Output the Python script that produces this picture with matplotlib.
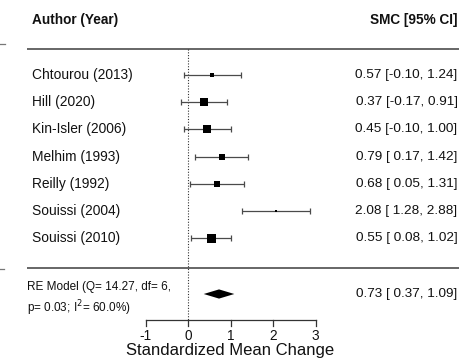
import numpy as np
import matplotlib
matplotlib.use("Agg")
import matplotlib.pyplot as plt

plt.rcParams['font.family'] = ['Liberation Sans', 'DejaVu Sans']

# Study-level standardized mean changes with 95% CIs
studies = ["Chtourou (2013)", "Hill (2020)", "Kin-Isler (2006)", "Melhim (1993)",
           "Reilly (1992)", "Souissi (2004)", "Souissi (2010)"]
smc = [0.57, 0.37, 0.45, 0.79, 0.68, 2.08, 0.55]
ci_low = [-0.10, -0.17, -0.10, 0.17, 0.05, 1.28, 0.08]
ci_high = [1.24, 0.91, 1.00, 1.42, 1.31, 2.88, 1.02]

# Random-effects summary
re_est, re_low, re_high = 0.73, 0.37, 1.09
q_stat, q_df, q_p, i2 = 14.27, 6, 0.03, 60.0

x_ticks = [-1, 0, 1, 2, 3]

# ---- layout helpers (pixel grid of the 459x360 canvas) ----
PX0, PXU = 188.0, 42.5       # x pixel of SMC = 0, pixels per unit
PY0, PYU = 75.0, 27.2        # y pixel of first row, pixels per row


def X(px):
    return (px - PX0) / PXU


def Y(py):
    return (py - PY0) / PYU


fig = plt.figure(figsize=(4.59, 3.6), dpi=100)
ax = fig.add_axes([0, 0, 1, 1])
ax.set_xlim(X(0), X(459))
ax.set_ylim(Y(360), Y(0))
ax.axis('off')

n = len(studies)
rows = np.arange(n)
est = np.array(smc)
lo = np.array(ci_low)
hi = np.array(ci_high)

# box sizes proportional to random-effects weights (DerSimonian-Laird)
v = ((hi - lo) / (2 * 1.959964)) ** 2
w_fe = 1 / v
c = w_fe.sum() - (w_fe ** 2).sum() / w_fe.sum()
tau2 = max(0.0, (q_stat - q_df) / c)
w_re = 1 / (v + tau2)
rel = (w_re - w_re.min()) / (w_re.max() - w_re.min())
box_px = 2.5 + rel * (9.0 - 2.5)
box_pt = box_px * 72 / 100

line_col = '#4a4a4a'
y_top, y_bot = Y(48.5), Y(267.5)
y_re = Y(294)
y_axis = Y(319.5)

# separator lines
ax.plot([X(27), X(459)], [y_top, y_top], color='#5a5a5a', lw=1.3, solid_capstyle='butt')
ax.plot([X(27), X(459)], [y_bot, y_bot], color='#5a5a5a', lw=1.3, solid_capstyle='butt')
ax.plot([X(0), X(5)], [Y(44), Y(44)], color='#777777', lw=0.9)
ax.plot([X(0), X(4)], [Y(269), Y(269)], color='#777777', lw=0.9)

# reference line at zero
ax.plot([0, 0], [y_top, y_axis], color='#333333', lw=0.8, linestyle=(0, (1, 1.5)))

# confidence intervals with end caps
cap = 3.0 / PYU
ax.hlines(rows, lo, hi, color=line_col, lw=0.9)
ax.vlines(lo, rows - cap, rows + cap, color=line_col, lw=0.9)
ax.vlines(hi, rows - cap, rows + cap, color=line_col, lw=0.9)
for xi, yi, s in zip(est, rows, box_pt):
    ax.plot(xi, yi, marker='s', ms=s, color='black', mec='black', mew=0.0,
            linestyle='none', zorder=3)

# summary diamond
dh = 4.6 / PYU
ax.fill([re_low, re_est, re_high, re_est], [y_re, y_re - dh, y_re, y_re + dh],
        color='black', lw=0)

# x axis
ax.plot([x_ticks[0], x_ticks[-1]], [y_axis, y_axis], color='#333333', lw=0.9)
tick_len = 6.5 / PYU
for t in x_ticks:
    ax.plot([t, t], [y_axis, y_axis + tick_len], color='#333333', lw=0.9)
    ax.text(t, Y(336), f"{t:g}", ha='center', va='center',
            fontsize=9.8, color='#111111')
ax.text(np.mean(x_ticks), Y(350.5), "Standardized Mean Change", ha='center',
        va='center', fontsize=12, color='#111111')

# headers
ax.text(X(32), Y(20), "Author (Year)", ha='left', va='center', fontsize=9.8,
        fontweight='bold', color='#111111')
ax.text(X(457.5), Y(20), "SMC [95% CI]", ha='right', va='center', fontsize=9.8,
        fontweight='bold', color='#111111')

# study labels and values
for yi, name, e, l, h in zip(rows, studies, smc, ci_low, ci_high):
    ax.text(X(32), yi, name, ha='left', va='center', fontsize=9.9, color='#111111')
    ax.text(X(457.5), yi, f"{e:.2f} [{l:5.2f}, {h:.2f}]".replace(' -', '-'),
            ha='right', va='center', fontsize=9.7, color='#111111')

# summary labels
ax.text(X(27), Y(287), f"RE Model (Q= {q_stat:.2f}, df= {q_df},", ha='left',
        va='center', fontsize=8.5, color='#111111')
ax.text(X(27), Y(308.5), f"p= {q_p:.2f}; I$^{{2}}$= {i2:.1f}%)", ha='left',
        va='center', fontsize=8.5, color='#111111')
ax.text(X(457.5), y_re, f"{re_est:.2f} [{re_low:5.2f}, {re_high:.2f}]",
        ha='right', va='center', fontsize=9.7, color='#111111')

fig.savefig("out.png", dpi=100)
